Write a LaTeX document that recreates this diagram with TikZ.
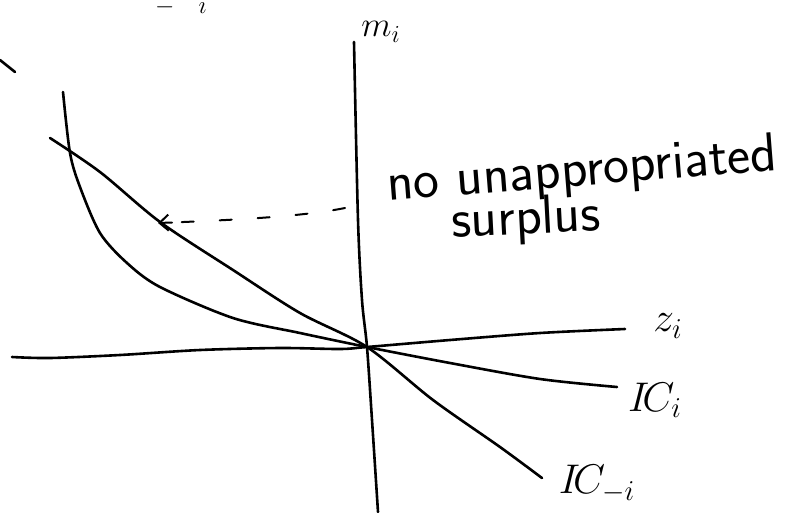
\documentclass[tikz,border=0pt]{standalone}
\usetikzlibrary{arrows.meta}
\begin{document}
\begin{tikzpicture}[x=1pt,y=-1pt,
  pen/.style={line width=2.6pt,line cap=round,line join=round},
  hand/.style={font=\sffamily\fontsize{55}{60}\selectfont,inner sep=0pt},
  lab/.style={font=\fontsize{20}{24}\selectfont,inner sep=0pt,scale=2}]
\useasboundingbox (0,0) rectangle (798,512);
\coordinate (O) at (367,347);
% vertical axis m_i
\draw[pen] plot[smooth] coordinates {(354,42) (358,220) (362,300) (367,347) (372,420) (378,512)};
% horizontal axis z_i
\draw[pen] plot[smooth] coordinates {(12,357) (50,358) (120,355) (200,350) (280,348) (340,349) (367,347) (450,340) (540,333) (625,329)};
% IC_i
\draw[pen] plot[smooth] coordinates {(63,92) (70,153) (80,187) (100,233) (127,263) (160,287) (233,318) (300,333) (367,347) (450,363) (540,379) (617,387)};
% IC_{-i}
\draw[pen] plot[smooth] coordinates {(50,138) (100,172) (160,222) (233,270) (300,313) (367,347) (433,400) (500,447) (542,478)};
% dashed arrow
\coordinate (ds) at (345,208);
\coordinate (dm) at (172,222.5);
\coordinate (de) at (158,223);
\draw[pen,line width=2pt,dash pattern=on 12pt off 26pt] (ds) .. controls (300,217) and (230,220) .. (dm);
\draw[pen,line width=2pt,-{Straight Barb[length=9pt,width=16pt,line width=2pt]}] (dm) -- (de);
% labels
\node[lab,scale=0.85] (mi) at (381,32) {$m_i$};
\node[lab] (zi) at (668,326) {$z_i$};
\node[lab] (ici) at (655,400) {$I\!C_i$};
\node[lab] (icmi) at (597,484) {$I\!C_{-i}$};
\node[hand,rotate=4.5,anchor=base west] (t1) at (388,201) {no unappropriated};
\node[hand,rotate=3,anchor=base west] (t2) at (452,238) {surplus};
% cut-off fragments at the edges
\node[lab,scale=0.6,anchor=base west] (top) at (155,13) {$-\quad i$};
\draw[pen] (0,60) -- (15,72);
\end{tikzpicture}
\end{document}
